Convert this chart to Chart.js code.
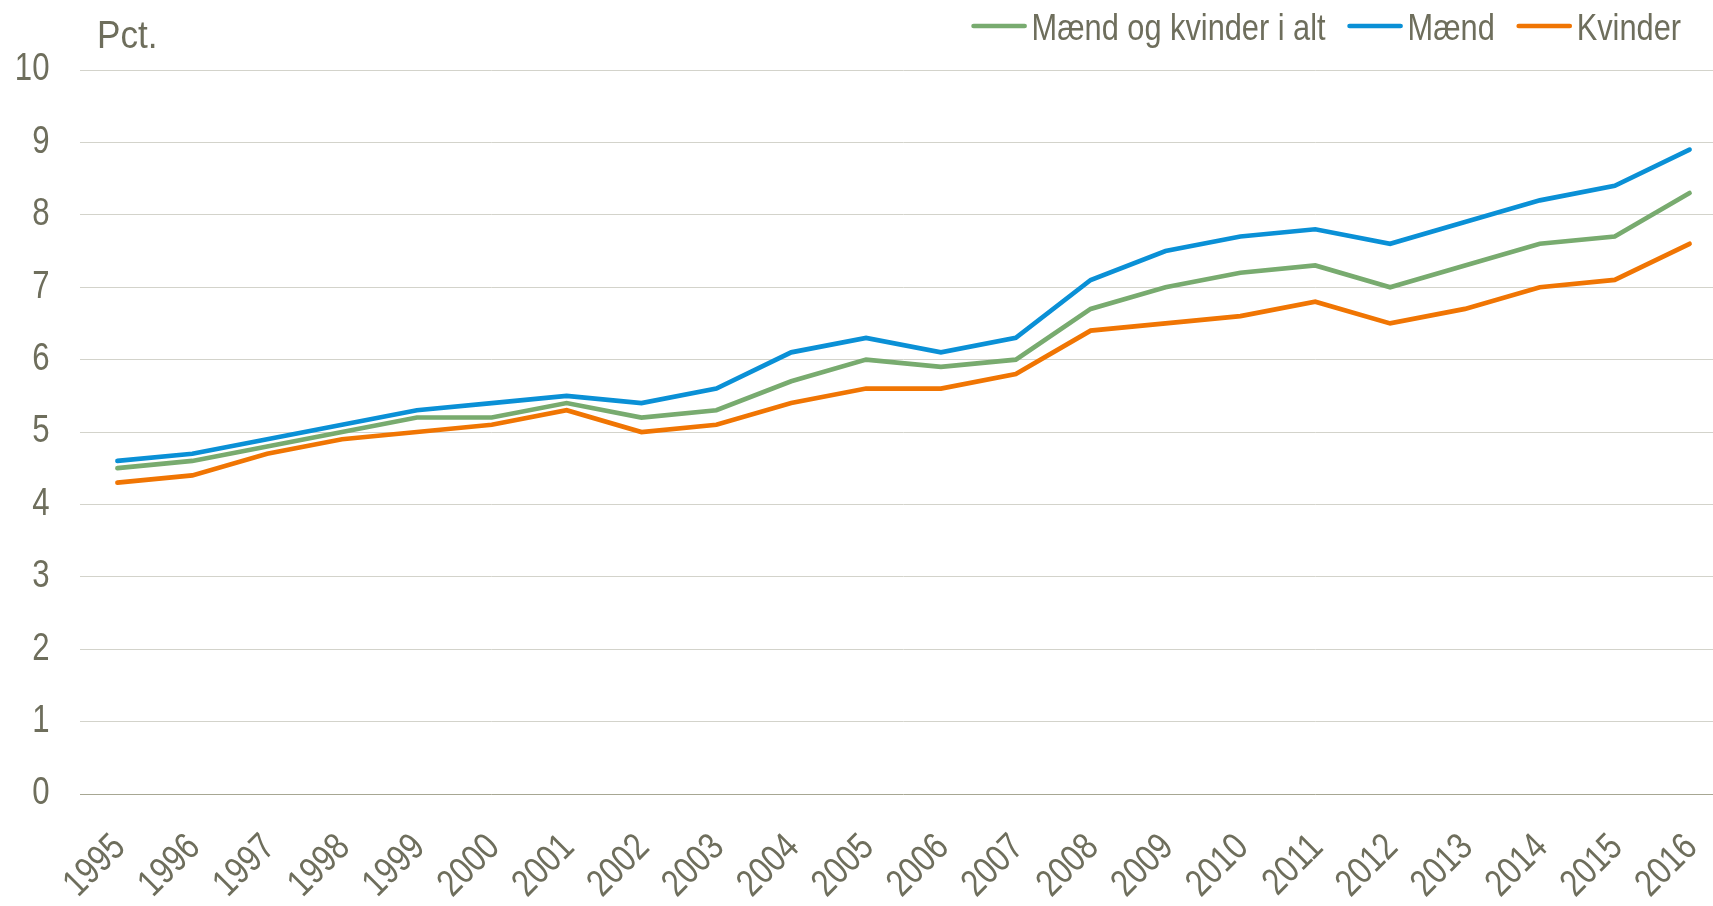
<!DOCTYPE html>
<html><head><meta charset="utf-8">
<script src="https://cdn.jsdelivr.net/npm/chart.js@4/dist/chart.umd.min.js"></script>
<style>
html,body{margin:0;padding:0;overflow:hidden;background:#fff;width:1713px;height:906px}
#wrap{position:absolute;left:0;top:0;width:1727px;height:906px}
</style>
</head><body><div id="wrap"><canvas id="c" width="1727" height="906"></canvas></div>
<script>
const years = ['1995','1996','1997','1998','1999','2000','2001','2002','2003','2004','2005','2006','2007','2008','2009','2010','2011','2012','2013','2014','2015','2016'];
const total   = [4.5,4.6,4.8,5.0,5.2,5.2,5.4,5.2,5.3,5.7,6.0,5.9,6.0,6.7,7.0,7.2,7.3,7.0,7.3,7.6,7.7,8.3];
const maend   = [4.6,4.7,4.9,5.1,5.3,5.4,5.5,5.4,5.6,6.1,6.3,6.1,6.3,7.1,7.5,7.7,7.8,7.6,7.9,8.2,8.4,8.9];
const kvinder = [4.3,4.4,4.7,4.9,5.0,5.1,5.3,5.0,5.1,5.4,5.6,5.6,5.8,6.4,6.5,6.6,6.8,6.5,6.7,7.0,7.1,7.6];
const seriesNames = ['Mænd og kvinder i alt','Mænd','Kvinder'];
const seriesColors = ['#78ab6f','#0a90d6','#f07503'];
const yMin = 0, yMax = 10, yStep = 1;
const unitLabel = 'Pct.';

const FONT = '"Liberation Sans",Arial,sans-serif';
const TEXT = '#6e6e5c';
const NARROW = 0.82; // horizontal squeeze to imitate a narrow typeface

function narrowText(ctx, text, x, y, align, baseline, rot, squeeze) {
  ctx.save();
  ctx.translate(x, y);
  if (rot) ctx.rotate(rot);
  ctx.scale(squeeze || NARROW, 1);
  ctx.textAlign = align;
  ctx.textBaseline = baseline;
  ctx.fillText(text, 0, 0);
  ctx.restore();
}

const overlay = {
  id: 'overlay',
  afterDraw(chart) {
    const ctx = chart.ctx;
    const area = chart.chartArea;
    ctx.save();
    ctx.fillStyle = TEXT;

    // y tick labels, placed by the y scale
    const ys = chart.scales.y;
    ctx.font = '38px ' + FONT;
    ys.ticks.forEach(t => {
      narrowText(ctx, String(t.value), 49.5, ys.getPixelForValue(t.value), 'right', 'middle', 0);
    });

    // x tick labels, placed by the x scale, rotated 45 degrees
    const xs = chart.scales.x;
    xs.ticks.forEach((t, i) => {
      const lbl = xs.getLabelForValue(t.value);
      narrowText(ctx, lbl, xs.getPixelForTick(i) + 9.5, area.bottom + 55, 'right', 'alphabetic', -Math.PI / 4);
    });

    // unit label
    ctx.font = '39px ' + FONT;
    narrowText(ctx, unitLabel, 97, 48, 'left', 'alphabetic', 0, 0.9);

    // legend
    ctx.font = '37.5px ' + FONT;
    const ds = chart.data.datasets;
    const lineW = 55, gapLT = 5, gapItems = 22;
    const widths = ds.map(d => ctx.measureText(d.label).width * NARROW);
    let totalW = 0;
    widths.forEach((w, i) => { totalW += lineW + gapLT + w + (i < ds.length - 1 ? gapItems : 0); });
    let x = 1681 - totalW;
    const cy = 26;
    ds.forEach((d, i) => {
      ctx.strokeStyle = d.borderColor;
      ctx.lineWidth = 4.7;
      ctx.lineCap = 'round';
      ctx.beginPath();
      ctx.moveTo(x + 2, cy);
      ctx.lineTo(x + lineW - 2, cy);
      ctx.stroke();
      x += lineW + gapLT;
      narrowText(ctx, d.label, x, cy + 13.5, 'left', 'alphabetic', 0);
      x += widths[i] + gapItems;
    });
    ctx.restore();
  }
};

new Chart(document.getElementById('c'), {
  type: 'line',
  data: {
    labels: years,
    datasets: [
      { label: seriesNames[0], data: total,   borderColor: seriesColors[0], backgroundColor: seriesColors[0] },
      { label: seriesNames[1], data: maend,   borderColor: seriesColors[1], backgroundColor: seriesColors[1] },
      { label: seriesNames[2], data: kvinder, borderColor: seriesColors[2], backgroundColor: seriesColors[2] }
    ]
  },
  options: {
    responsive: false,
    animation: false,
    devicePixelRatio: 1,
    layout: { padding: { top: 70, left: 0, right: 0, bottom: 0 } },
    elements: {
      point: { radius: 0, hoverRadius: 0 },
      line: { tension: 0, borderWidth: 4.7, borderCapStyle: 'round', borderJoinStyle: 'miter', fill: false }
    },
    plugins: { legend: { display: false }, tooltip: { enabled: false }, title: { display: false } },
    scales: {
      x: {
        type: 'category',
        offset: true,
        grid: { display: false },
        border: { display: false },
        ticks: { display: false, autoSkip: false },
        afterFit(s) { s.height = 112; }
      },
      y: {
        min: yMin, max: yMax,
        border: { display: false },
        grid: { drawTicks: false, lineWidth: 1, color: c => (c.tick && c.tick.value === 0) ? '#a7a793' : '#d3d3cb' },
        ticks: { display: false, stepSize: yStep },
        afterFit(s) { s.width = 80; }
      }
    }
  },
  plugins: [overlay]
});
</script>
</body></html>
